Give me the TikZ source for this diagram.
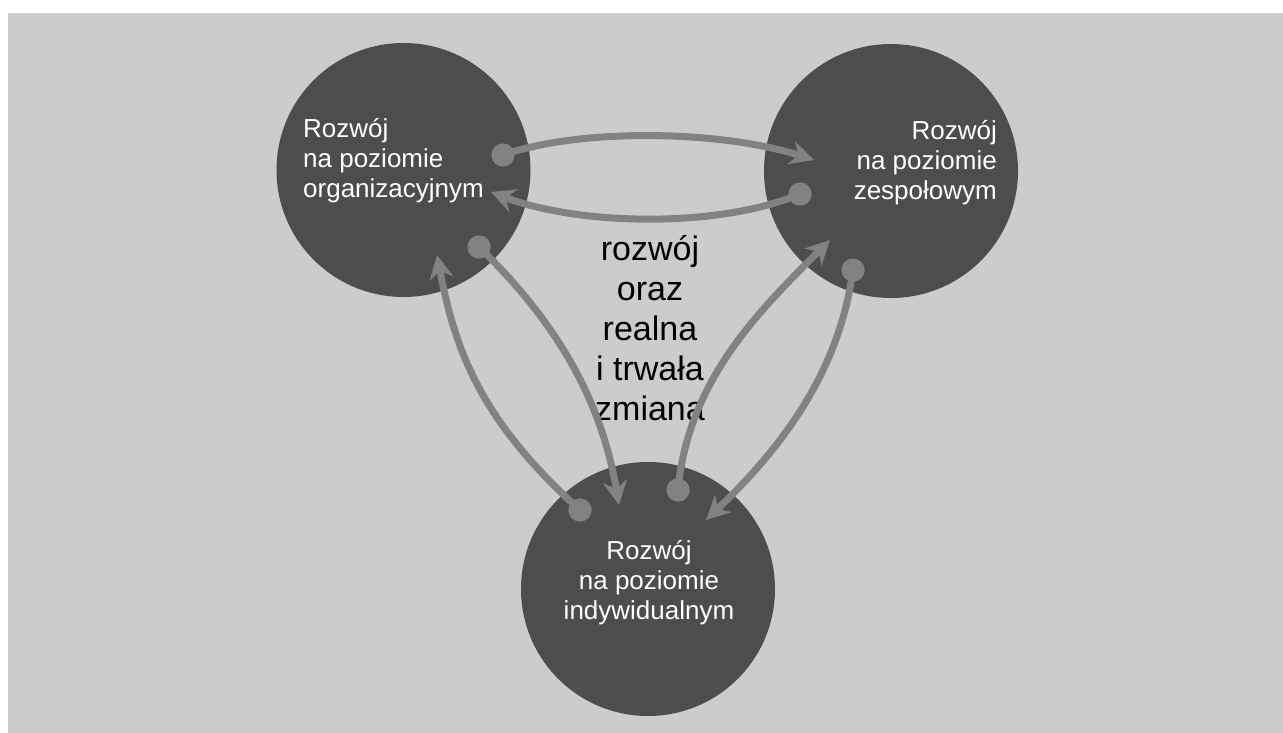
\documentclass[tikz,border=0pt]{standalone}
\usepackage{fontspec}
\setmainfont{Liberation Sans}
\usetikzlibrary{arrows.meta}
\definecolor{panel}{HTML}{CCCCCC}
\definecolor{disc}{HTML}{4D4D4D}
\definecolor{link}{HTML}{828282}

\begin{document}
\begin{tikzpicture}[x=1pt,y=-1pt,
  level/.style={circle, fill=disc, minimum size=254pt, inner sep=0pt},
  leveltext/.style={text=white, inner sep=0pt, font=\fontsize{26}{30}\selectfont},
  flow/.style={draw=link, line width=7pt,
    -{Stealth[length=24pt,width=24pt,inset=8pt]}},
  enddot/.style={circle, fill=link, minimum size=23pt, inner sep=0pt}]

% canvas
\useasboundingbox (0,0) rectangle (1283,733);
\fill[white] (0,0) rectangle (1283,733);
\fill[panel] (8,13) rectangle (1283,733);

% the three levels
\node[level] (org) at (403.5,170) {};
\node[level] (zes) at (891,171) {};
\node[level] (ind) at (648,589) {};

% labels (base anchor sits on the last line)
\node[leveltext, align=left, anchor=base west] (orgtxt) at (303,197)
  {Rozwój\\na poziomie\\organizacyjnym};
\node[leveltext, align=right, anchor=base east] (zestxt) at (997,200)
  {Rozwój\\na poziomie\\zespołowym};
\node[leveltext, align=center, anchor=base] (indtxt) at (649,619)
  {Rozwój\\na poziomie\\indywidualnym};

\node[inner sep=0pt, align=center, anchor=base,
  font=\fontsize{34}{40}\selectfont] (core) at (650,420)
  {rozwój\\oraz\\realna\\i trwała\\zmiana};

% start dots of the links
\node[enddot] (s1) at (503,155) {};
\node[enddot] (s2) at (800,194) {};
\node[enddot] (s3) at (580,510) {};
\node[enddot] (s4) at (479,247) {};
\node[enddot] (s5) at (678,490) {};
\node[enddot] (s6) at (853,270) {};

% arrow tips inside the target discs
\coordinate (e1) at (814,160);
\coordinate (e2) at (491,192);
\coordinate (e3) at (437,255);
\coordinate (e4) at (619,505);
\coordinate (e5) at (830,240);
\coordinate (e6) at (706,520);

% links
\draw[flow] (s1.center) .. controls (580,128) and (720,130) .. (e1);
\draw[flow] (s2.center) .. controls (720,228) and (580,226) .. (e2);
\draw[flow] (s3.center) .. controls (480,420) and (455,350) .. (e3);
\draw[flow] (s4.center) .. controls (565,330) and (603,410) .. (e4);
\draw[flow] (s5.center) .. controls (688,380) and (760,310) .. (e5);
\draw[flow] (s6.center) .. controls (840,365) and (790,440) .. (e6);

% dots on top of the line ends
\node[enddot] at (s1) {};
\node[enddot] at (s2) {};
\node[enddot] at (s3) {};
\node[enddot] at (s4) {};
\node[enddot] at (s5) {};
\node[enddot] at (s6) {};
\end{tikzpicture}
\end{document}
